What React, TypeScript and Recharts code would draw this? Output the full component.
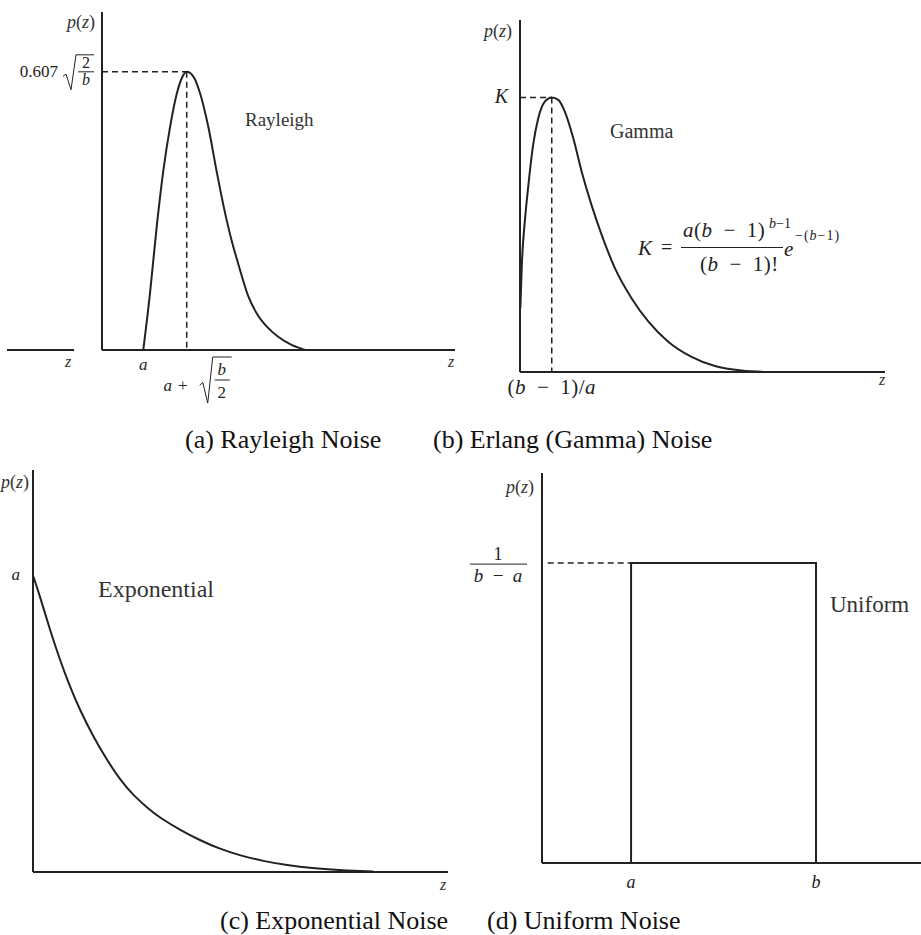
import React from "react";
import { LineChart, Line, XAxis, YAxis, ReferenceLine } from "recharts";

const serif = '"Liberation Serif", "Times New Roman", serif';
const ink = "#222";

// (a) Rayleigh, z in 0..10 along the axis, p in 0..1 of the axis height
const rayleighZ = [1.17, 1.36, 1.55, 1.74, 1.93, 2.12, 2.26, 2.4, 2.59, 2.78, 3.01, 3.25, 3.39, 3.53, 3.67, 3.82, 3.96, 4.14, 4.38, 4.67, 4.99, 5.37, 5.7, 5.75];
const rayleighP = [0, 0.168, 0.365, 0.533, 0.661, 0.759, 0.804, 0.823, 0.809, 0.759, 0.661, 0.527, 0.453, 0.385, 0.325, 0.269, 0.219, 0.16, 0.109, 0.069, 0.039, 0.015, 0.002, 0];
const rayleighA = 1.17;
const rayleighPeakZ = 2.4;
const rayleighPeakP = 0.823;

// (b) Erlang (Gamma)
const gammaZ = [0.01, 0.05, 0.14, 0.23, 0.36, 0.5, 0.68, 0.87, 1.05, 1.23, 1.46, 1.69, 1.96, 2.24, 2.6, 3.06, 3.52, 4.06, 4.7, 5.34, 6.07, 6.71];
const gammaP = [0.182, 0.304, 0.437, 0.531, 0.645, 0.721, 0.768, 0.78, 0.773, 0.739, 0.664, 0.569, 0.474, 0.389, 0.295, 0.209, 0.143, 0.086, 0.043, 0.017, 0.004, 0];
const gammaPeakZ = 0.87;
const gammaPeakP = 0.78;

// (c) Exponential
const expZ = [0.01, 0.01, 0.17, 0.41, 0.65, 0.89, 1.13, 1.45, 1.78, 2.1, 2.42, 2.82, 3.06, 3.54, 4.02, 4.51, 4.99, 5.55, 6.11, 6.75, 7.32, 8.2, 8.2];
const expP = [0.735, 0.735, 0.685, 0.602, 0.527, 0.461, 0.403, 0.337, 0.279, 0.229, 0.19, 0.154, 0.135, 0.105, 0.079, 0.057, 0.041, 0.027, 0.017, 0.009, 0.005, 0.001, 0.001];
const expA = 0.735;

// (d) Uniform
const uniformA = 2.35;
const uniformB = 7.23;
const uniformH = 0.769;
const uniformZ = [uniformA, uniformA, uniformB, uniformB];
const uniformP = [0, uniformH, uniformH, 0];

const toRows = (zs: number[], ps: number[]) => zs.map((z, i) => ({ z, p: ps[i] }));

const Radical = ({ x, top, bottom, end }: { x: number; top: number; bottom: number; end: number }) => {
  const h = bottom - top;
  return (
    <path
      d={`M${x},${top + h * 0.62} L${x + 3},${top + h * 0.55} L${x + 8},${bottom} L${x + 13},${top} L${end},${top}`}
      fill="none"
      stroke={ink}
      strokeWidth={1}
    />
  );
};

const I = ({ children }: { children: React.ReactNode }) => <tspan fontStyle="italic">{children}</tspan>;

const txt = { fontFamily: serif, fill: ink } as const;
const sp = "\u2002";

const RayleighXTick = ({ x, y, payload }: any) => {
  if (Math.abs(payload.value - rayleighA) < 1e-6) {
    return (
      <text x={x} y={y + 20} textAnchor="middle" fontSize={17} fontStyle="italic" {...txt}>a</text>
    );
  }
  return (
    <g>
      <text x={x - 19} y={y + 41} textAnchor="middle" fontSize={17} fontStyle="italic" {...txt}>a</text>
      <text x={x - 4} y={y + 41} textAnchor="middle" fontSize={17} {...txt}>+</text>
      <Radical x={x + 13} top={y + 7} bottom={y + 53} end={x + 45} />
      <text x={x + 35} y={y + 25} textAnchor="middle" fontSize={17} fontStyle="italic" {...txt}>b</text>
      <line x1={x + 28} x2={x + 43} y1={y + 30} y2={y + 30} stroke={ink} strokeWidth={1} />
      <text x={x + 35} y={y + 48} textAnchor="middle" fontSize={17} {...txt}>2</text>
    </g>
  );
};

const RayleighYTick = ({ x, y }: any) => (
  <g>
    <text x={x - 44} y={y + 5} textAnchor="end" fontSize={17} {...txt}>0.607</text>
    <Radical x={x - 39} top={y - 17} bottom={y + 18} end={x - 8} />
    <text x={x - 16} y={y - 4} textAnchor="middle" fontSize={16} {...txt}>2</text>
    <line x1={x - 24} x2={x - 8} y1={y} y2={y} stroke={ink} strokeWidth={1} />
    <text x={x - 16} y={y + 13} textAnchor="middle" fontSize={16} fontStyle="italic" {...txt}>b</text>
  </g>
);

const GammaXTick = ({ x, y }: any) => (
  <text x={x} y={y + 22} textAnchor="middle" fontSize={21} letterSpacing={0.5} {...txt}>
    (<I>b</I>{sp}−{sp}1)/<I>a</I>
  </text>
);

const GammaYTick = ({ x, y }: any) => (
  <text x={x - 12} y={y + 6} textAnchor="end" fontSize={20} fontStyle="italic" {...txt}>K</text>
);

const ExpYTick = ({ x, y }: any) => (
  <text x={x - 13} y={y + 3} textAnchor="end" fontSize={17} fontStyle="italic" {...txt}>a</text>
);

const UniformXTick = ({ x, y, payload }: any) => (
  <text x={x} y={y + 25} textAnchor="middle" fontSize={18} fontStyle="italic" {...txt}>
    {Math.abs(payload.value - uniformA) < 1e-6 ? "a" : "b"}
  </text>
);

const UniformYTick = ({ x, y }: any) => (
  <g>
    <text x={x - 44} y={y - 3} textAnchor="middle" fontSize={18} {...txt}>1</text>
    <line x1={x - 72} x2={x - 15} y1={y + 1} y2={y + 1} stroke={ink} strokeWidth={1} />
    <text x={x - 44} y={y + 19} textAnchor="middle" fontSize={19} {...txt}>
      <I>b</I>{sp}−{sp}<I>a</I>
    </text>
  </g>
);

type PanelProps = {
  left: number;
  top: number;
  width: number;
  height: number;
  margin: { top: number; right: number };
  axisLeft: number;
  axisBottom: number;
  data: { z: number; p: number }[];
  xTicks?: number[];
  yTicks?: number[];
  xTick?: any;
  yTick?: any;
  curve?: "monotone" | "linear" | "basis";
  children?: React.ReactNode;
};

const Panel = ({ left, top, width, height, margin, axisLeft, axisBottom, data, xTicks, yTicks, xTick, yTick, curve = "monotone", children }: PanelProps) => (
  <div style={{ position: "absolute", left, top }}>
    <LineChart width={width} height={height} data={data} margin={{ ...margin, left: 0, bottom: 0 }}>
      <XAxis
        type="number"
        dataKey="z"
        domain={[0, 10]}
        ticks={xTicks ?? [0]}
        interval={0}
        tickLine={false}
        tickSize={0}
        tickMargin={0}
        height={axisBottom}
        axisLine={{ stroke: ink, strokeWidth: 2 }}
        tick={xTick ?? false}
        allowDataOverflow
      />
      <YAxis
        type="number"
        domain={[0, 1]}
        ticks={yTicks ?? [0]}
        interval={0}
        tickLine={false}
        tickSize={0}
        tickMargin={0}
        width={axisLeft}
        axisLine={{ stroke: ink, strokeWidth: 2 }}
        tick={yTick ?? false}
        allowDataOverflow
      />
      {children}
      <Line dataKey="p" type={curve} stroke={ink} strokeWidth={2} dot={false} isAnimationActive={false} />
    </LineChart>
  </div>
);

const dash = { stroke: ink, strokeWidth: 1.5, strokeDasharray: "6 4" };

const PZ = ({ x, y, anchor = "end" }: { x: number; y: number; anchor?: "end" | "start" }) => (
  <text x={x} y={y} textAnchor={anchor} fontSize={18} {...txt} fill="#333">
    <I>p</I>(<I>z</I>)
  </text>
);

const Z = ({ x, y }: { x: number; y: number }) => (
  <text x={x} y={y} textAnchor="middle" fontSize={16} fontStyle="italic" {...txt} fill="#333">z</text>
);

export default function App() {
  return (
    <div style={{ position: "relative", width: 921, height: 935, background: "#fff", overflow: "hidden", fontFamily: serif }}>
      <style>{"body{margin:0}"}</style>

      <Panel
        left={0}
        top={0}
        width={460}
        height={410}
        margin={{ top: 12, right: 5 }}
        axisLeft={102}
        axisBottom={60}
        data={toRows(rayleighZ, rayleighP)}
        xTicks={[rayleighA, rayleighPeakZ]}
        yTicks={[rayleighPeakP]}
        xTick={(p: any) => <RayleighXTick {...p} />}
        yTick={(p: any) => <RayleighYTick {...p} />}
      >
        <ReferenceLine segment={[{ x: 0, y: rayleighPeakP }, { x: rayleighPeakZ, y: rayleighPeakP }]} {...dash} />
        <ReferenceLine segment={[{ x: rayleighPeakZ, y: rayleighPeakP }, { x: rayleighPeakZ, y: 0 }]} {...dash} />
      </Panel>

      <Panel
        left={460}
        top={0}
        width={461}
        height={410}
        margin={{ top: 20, right: 36 }}
        axisLeft={60}
        axisBottom={38}
        data={toRows(gammaZ, gammaP)}
        xTicks={[gammaPeakZ]}
        yTicks={[gammaPeakP]}
        xTick={(p: any) => <GammaXTick {...p} />}
        yTick={(p: any) => <GammaYTick {...p} />}
      >
        <ReferenceLine segment={[{ x: 0, y: gammaPeakP }, { x: gammaPeakZ, y: gammaPeakP }]} {...dash} />
        <ReferenceLine segment={[{ x: gammaPeakZ, y: gammaPeakP }, { x: gammaPeakZ, y: 0 }]} {...dash} />
      </Panel>

      <Panel
        left={0}
        top={460}
        width={460}
        height={440}
        margin={{ top: 10, right: 12 }}
        axisLeft={33}
        axisBottom={28}
        data={toRows(expZ, expP)}
        yTicks={[expA]}
        yTick={(p: any) => <ExpYTick {...p} />}
        curve="basis"
      />

      <Panel
        left={460}
        top={460}
        width={461}
        height={440}
        margin={{ top: 13, right: 0 }}
        axisLeft={82}
        axisBottom={37}
        data={toRows(uniformZ, uniformP)}
        xTicks={[uniformA, uniformB]}
        yTicks={[uniformH]}
        xTick={(p: any) => <UniformXTick {...p} />}
        yTick={(p: any) => <UniformYTick {...p} />}
        curve="linear"
      >
        <ReferenceLine segment={[{ x: 0.15, y: uniformH }, { x: uniformA, y: uniformH }]} {...dash} />
      </Panel>

      <svg width={921} height={935} style={{ position: "absolute", left: 0, top: 0, pointerEvents: "none" }}>
        {/* stray axis stub on the far left of panel (a) */}
        <line x1={7} x2={74} y1={350} y2={350} stroke={ink} strokeWidth={2} />
        <Z x={68} y={367} />

        <PZ x={95} y={28} />
        <Z x={451} y={367} />
        <text x={245} y={126} fontSize={19} {...txt} fill="#333">Rayleigh</text>

        <PZ x={512} y={37} />
        <Z x={882} y={385} />
        <text x={610} y={138} fontSize={20} {...txt} fill="#333">Gamma</text>
        <text x={638} y={255} fontSize={21} fontStyle="italic" {...txt}>K</text>
        <text x={661} y={254} fontSize={20} {...txt}>=</text>
        <text x={683} y={237} fontSize={21} letterSpacing={0.5} {...txt}>
          <I>a</I>(<I>b</I>{sp}−{sp}1)
        </text>
        <text x={769} y={228} fontSize={14} {...txt}>
          <I>b</I>−1
        </text>
        <line x1={681} x2={783} y1={247.5} y2={247.5} stroke={ink} strokeWidth={1} />
        <text x={700} y={271} fontSize={21} letterSpacing={0.5} {...txt}>
          (<I>b</I>{sp}−{sp}1)!
        </text>
        <text x={784} y={256} fontSize={21} fontStyle="italic" {...txt}>e</text>
        <text x={795} y={240} fontSize={14} letterSpacing={1} {...txt}>
          −(<I>b</I>−1)
        </text>

        <text x={185} y={448} fontSize={26} {...txt} fill="#111">(a) Rayleigh Noise</text>
        <text x={433} y={448} fontSize={26} {...txt} fill="#111">(b) Erlang (Gamma) Noise</text>

        <PZ x={1} y={488} anchor="start" />
        <Z x={443} y={890} />
        <text x={98} y={597} fontSize={24} {...txt} fill="#333">Exponential</text>

        <PZ x={534} y={493} />
        <text x={830} y={612} fontSize={23} {...txt} fill="#333">Uniform</text>

        <text x={220} y={929} fontSize={26} {...txt} fill="#111">(c) Exponential Noise</text>
        <text x={487} y={929} fontSize={26} {...txt} fill="#111">(d) Uniform Noise</text>
      </svg>
    </div>
  );
}
